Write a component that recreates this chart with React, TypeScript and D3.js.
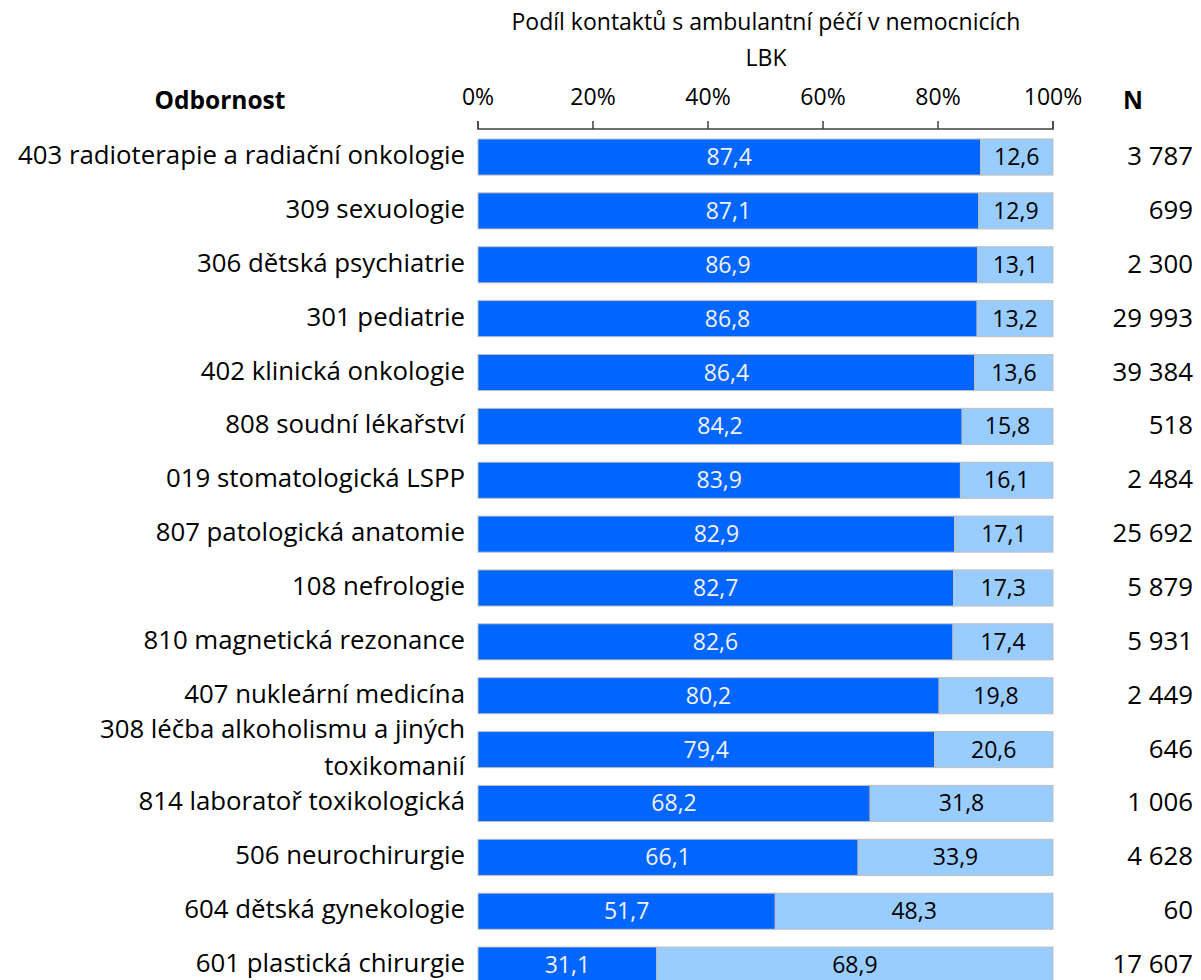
import React from "react";
import * as d3 from "d3";

const categories: string[][] = [
  ["403 radioterapie a radiační onkologie"],
  ["309 sexuologie"],
  ["306 dětská psychiatrie"],
  ["301 pediatrie"],
  ["402 klinická onkologie"],
  ["808 soudní lékařství"],
  ["019 stomatologická LSPP"],
  ["807 patologická anatomie"],
  ["108 nefrologie"],
  ["810 magnetická rezonance"],
  ["407 nukleární medicína"],
  ["308 léčba alkoholismu a jiných", "toxikomanií"],
  ["814 laboratoř toxikologická"],
  ["506 neurochirurgie"],
  ["604 dětská gynekologie"],
  ["601 plastická chirurgie"],
];
const hospitalShare = [87.4, 87.1, 86.9, 86.8, 86.4, 84.2, 83.9, 82.9, 82.7, 82.6, 80.2, 79.4, 68.2, 66.1, 51.7, 31.1];
const otherShare = [12.6, 12.9, 13.1, 13.2, 13.6, 15.8, 16.1, 17.1, 17.3, 17.4, 19.8, 20.6, 31.8, 33.9, 48.3, 68.9];
const counts = [3787, 699, 2300, 29993, 39384, 518, 2484, 25692, 5879, 5931, 2449, 646, 1006, 4628, 60, 17607];
const tickValues = [0, 20, 40, 60, 80, 100];
const titleLines = ["Podíl kontaktů s ambulantní péčí v nemocnicích", "LBK"];

const FONT = "'Open Sans', Lato, sans-serif";

export default function App() {
  const W = 1201;
  const H = 980;
  const step = 53.87;
  const top = 130.1;
  const keys = categories.map((c) => c.join(" "));
  const x = d3.scaleLinear().domain([0, 100]).range([478, 1053]);
  const y = d3
    .scaleBand<string>()
    .domain(keys)
    .range([top, top + step * keys.length])
    .paddingInner(0.33)
    .paddingOuter(0.165);
  const fmtN = (n: number) => d3.format(",")(n).replace(/,/g, " ");
  const fmtV = (v: number) => d3.format(".1f")(v).replace(".", ",");
  const axisY = 129;
  const labelSize = 25.8;

  return (
    <svg width={W} height={H} style={{ position: "absolute", left: 0, top: 0 }} fontFamily={FONT}>
      <rect x={0} y={0} width={W} height={H} fill="#fff" />
      {titleLines.map((t, i) => (
        <text key={i} x={766} y={30 + i * 36} textAnchor="middle" fontSize={23} fill="#000">
          {t}
        </text>
      ))}
      <text x={220} y={109} textAnchor="middle" fontSize={24.5} fontWeight="bold" fill="#000">
        Odbornost
      </text>
      <text x={1133} y={109} textAnchor="middle" fontSize={24.5} fontWeight="bold" fill="#000">
        N
      </text>
      <g>
        <path
          d={`M${x(0)},${axisY - 8}V${axisY}H${x(100)}V${axisY - 8}`}
          fill="none"
          stroke="#404040"
          strokeWidth={1.5}
        />
        {tickValues.map((t) => (
          <g key={t}>
            <line x1={x(t)} x2={x(t)} y1={axisY - 8} y2={axisY} stroke="#404040" strokeWidth={1.5} />
            <text x={x(t)} y={105} textAnchor="middle" fontSize={23} fill="#000">
              {t}%
            </text>
          </g>
        ))}
      </g>
      {keys.map((k, i) => {
        const y0 = y(k)!;
        const bh = y.bandwidth();
        const cy = y0 + bh / 2;
        const lines = categories[i];
        return (
          <g key={k}>
            <rect x={x(0)} y={y0} width={x(hospitalShare[i]) - x(0)} height={bh} fill="#0066ff" stroke="#bfbfbf" strokeWidth={1} />
            <rect
              x={x(hospitalShare[i])}
              y={y0}
              width={x(hospitalShare[i] + otherShare[i]) - x(hospitalShare[i])}
              height={bh}
              fill="#99ccff"
              stroke="#bfbfbf"
              strokeWidth={1}
            />
            <text x={(x(0) + x(hospitalShare[i])) / 2} y={cy + 8} textAnchor="middle" fontSize={23} fill="#f2f2f2">
              {fmtV(hospitalShare[i])}
            </text>
            <text
              x={(x(hospitalShare[i]) + x(hospitalShare[i] + otherShare[i])) / 2}
              y={cy + 8}
              textAnchor="middle"
              fontSize={23}
              fill="#000"
            >
              {fmtV(otherShare[i])}
            </text>
            {lines.map((ln, j) => (
              <text
                key={j}
                x={465}
                y={cy + 7 + (j - (lines.length - 1) / 2) * 37}
                textAnchor="end"
                fontSize={labelSize}
                fill="#000"
              >
                {ln}
              </text>
            ))}
            <text x={1193} y={cy + 8} textAnchor="end" fontSize={labelSize} fill="#000">
              {fmtN(counts[i])}
            </text>
          </g>
        );
      })}
    </svg>
  );
}
